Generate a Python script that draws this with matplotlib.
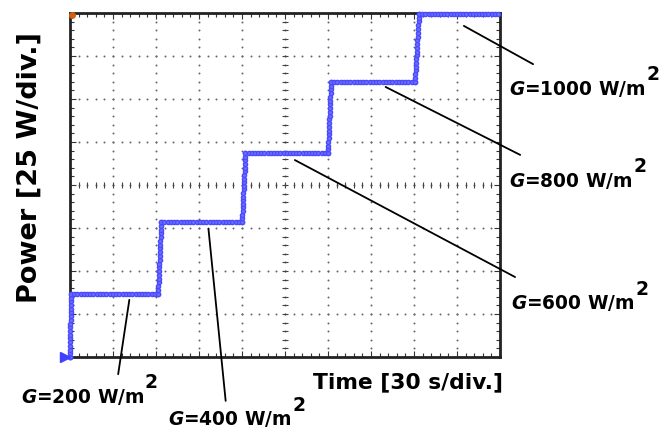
import matplotlib.pyplot as plt
import numpy as np

plt.rcParams['font.family'] = ['DejaVu Sans']
plt.rcParams['mathtext.fontset'] = 'custom'
plt.rcParams['mathtext.it'] = 'DejaVu Sans:italic:bold'
plt.rcParams['mathtext.rm'] = 'DejaVu Sans:bold'
plt.rcParams['mathtext.bf'] = 'DejaVu Sans:bold'

# oscilloscope screen: 10 x 8 divisions
n_xdiv = 10
n_ydiv = 8

# step change of irradiance (time in div, power in div)
step_start = [0.0, 2.05, 4.00, 6.00, 8.02]
step_end = [0.02, 2.12, 4.08, 6.07, 8.12]
levels = [0.0, 1.47, 3.14, 4.74, 6.40, 7.98]
t_stop = 9.95

# annotation: label, point on trace, line end, text position (div units)
labels = ['200', '400', '600', '800', '1000']
ann_from = [(1.38, 1.33), (3.22, 2.98), (5.23, 4.58), (7.34, 6.28), (9.16, 7.70)]
ann_to = [(1.12, -0.40), (3.62, -1.02), (10.35, 1.86), (10.47, 4.70), (10.77, 6.81)]
ann_text = [(-1.15, -0.90), (2.29, -1.42), (10.26, 1.28), (10.21, 4.12), (10.21, 6.26)]

fig = plt.figure(figsize=(6.66, 4.31), dpi=100)
ax = fig.add_axes([70 / 666, 73 / 431, 430 / 666, 344 / 431])
ax.set_xlim(0, n_xdiv)
ax.set_ylim(0, n_ydiv)

# dotted graticule
minor = np.arange(0, n_xdiv + 0.01, 0.2)
minor_y = np.arange(0, n_ydiv + 0.01, 0.2)
for gx in range(1, n_xdiv):
    ax.scatter(np.full(len(minor_y), gx), minor_y, s=2, color='#666666', lw=0, zorder=1)
for gy in range(1, n_ydiv):
    ax.scatter(minor, np.full(len(minor), gy), s=2, color='#666666', lw=0, zorder=1)

# centre cross with small ticks
cx, cy = n_xdiv / 2, n_ydiv / 2
ax.plot(minor, np.full(len(minor), cy), ls='none', marker='|', ms=5, mew=0.8, color='#444444', zorder=1)
ax.plot(np.full(len(minor_y), cx), minor_y, ls='none', marker='_', ms=5, mew=0.8, color='#444444', zorder=1)

# border ticks
ax.set_xticks(np.arange(0, n_xdiv + 1, 1))
ax.set_yticks(np.arange(0, n_ydiv + 1, 1))
ax.set_xticks(minor, minor=True)
ax.set_yticks(minor_y, minor=True)
ax.tick_params(which='both', direction='in', top=True, right=True,
               labelbottom=False, labelleft=False, color='#333333')
ax.tick_params(which='major', length=4, width=0.8)
ax.tick_params(which='minor', length=3, width=0.8)
for sp in ax.spines.values():
    sp.set_linewidth(2)
    sp.set_color('#222222')

# build trace
tx, ty = [], []
t_prev = 0.0
for i in range(len(step_start)):
    # flat part before the step
    seg = np.linspace(t_prev, step_start[i], max(2, int((step_start[i] - t_prev) / 0.07)))
    tx += list(seg)
    ty += [levels[i]] * len(seg)
    # rise
    nr = max(2, int((levels[i + 1] - levels[i]) / 0.08))
    tx += list(np.linspace(step_start[i], step_end[i], nr))
    ty += list(np.linspace(levels[i], levels[i + 1], nr))
    t_prev = step_end[i]
seg = np.linspace(t_prev, t_stop, int((t_stop - t_prev) / 0.07))
tx += list(seg)
ty += [levels[-1]] * len(seg)

ax.plot(tx, ty, color='#5a5aff', lw=2, marker='o', ms=3, mec='#4a4aff', mfc='#7070ff', zorder=3, clip_on=False)

# channel markers
ax.plot([-0.12], [0], marker='>', ms=7, color='#4040ff', clip_on=False, zorder=4)
ax.plot([0.05], [7.95], marker='o', ms=4, color='#d06010', clip_on=False, zorder=4)

# annotations
for lab, p0, p1, pt in zip(labels, ann_from, ann_to, ann_text):
    ax.annotate('', xy=p0, xytext=p1, annotation_clip=False,
                arrowprops=dict(arrowstyle='-', color='black', lw=1.3, shrinkA=0, shrinkB=0))
    t = ax.text(pt[0], pt[1], '$G$=' + lab + ' W/m', fontsize=13.4, fontweight='bold',
                ha='left', va='center', clip_on=False)
    # superscript 2 set just after the unit
    ax.annotate('2', xy=(1, 1), xycoords=t, xytext=(0.3, -4), textcoords='offset points',
                fontsize=13.5, fontweight='bold', ha='left', va='bottom')

ax.text(10.07, -0.56, 'Time [30 s/div.]', fontsize=15.7, fontweight='bold', ha='right', va='center')
fig.text(30 / 666, 1 - 168 / 431, 'Power [25 W/div.]', fontsize=19.5, fontweight='bold',
         rotation=90, ha='center', va='center')

fig.savefig('out.png', dpi=100, facecolor='white')
